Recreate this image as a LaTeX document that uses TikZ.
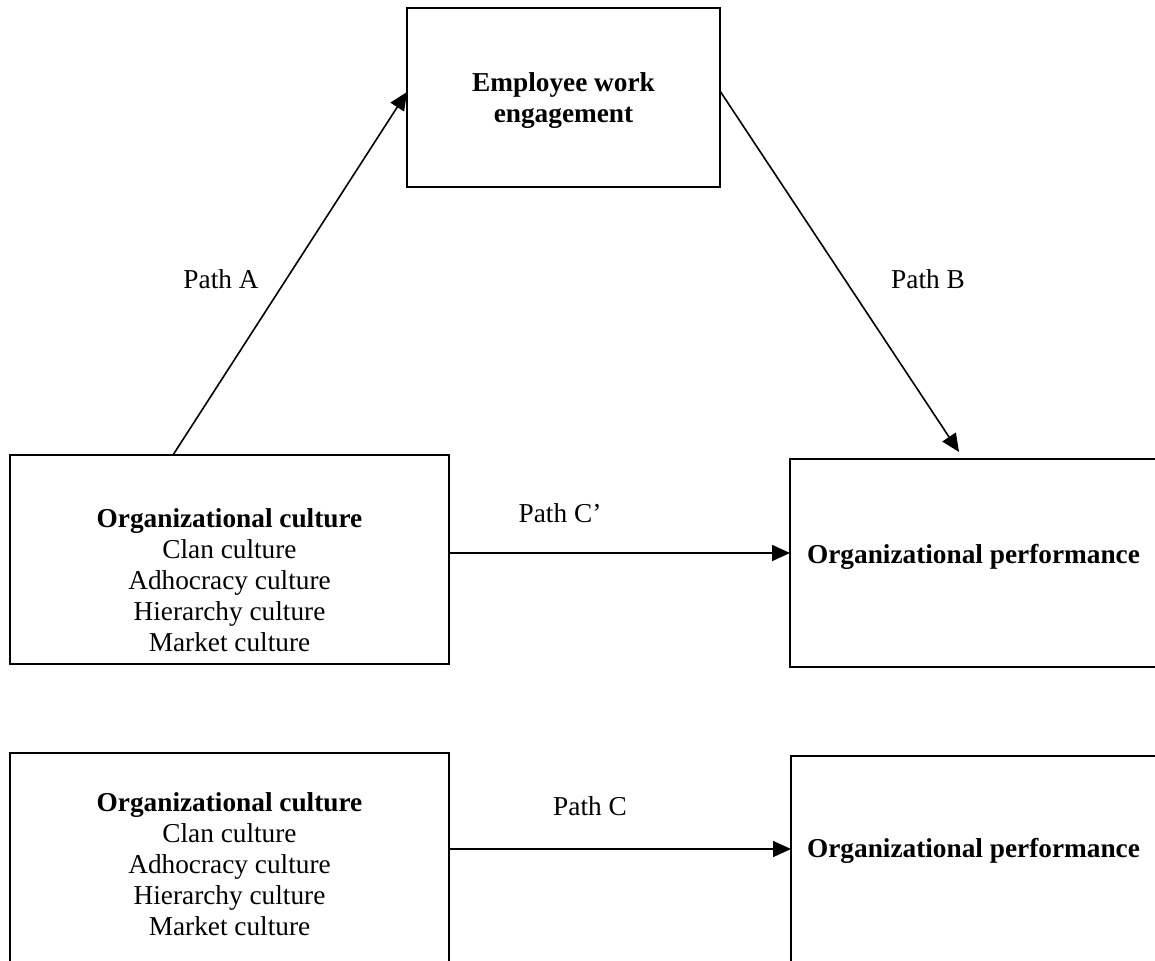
\documentclass[tikz,border=0pt]{standalone}
\usepackage{fontspec}
\setmainfont{Liberation Serif}
\usetikzlibrary{arrows.meta}
\begin{document}
\begin{tikzpicture}[x=0.5pt,y=-0.5pt,
  box/.style={draw,line width=1pt,inner sep=0pt,outer sep=0pt},
  txt/.style={align=center,font=\fontsize{13.65}{15.5}\selectfont,inner sep=0pt},
  lbl/.style={font=\fontsize{13.65}{15.5}\selectfont,inner sep=0pt},
  arr/.style={line width=0.8pt,-{Triangle[length=9pt,width=8pt]}}]
\useasboundingbox (0,0) rectangle (1155,961);
\clip (0,0) rectangle (1155,961);

% mediation model
\node[box,minimum width=156.5pt,minimum height=89.5pt] (ewe) at (563.5,97.5) {};
\node[box,minimum width=219.5pt,minimum height=104.5pt] (oc) at (229.5,559.5) {};
\node[box,minimum width=195pt,minimum height=103.75pt] (op) at (985,562.75) {};

\node[txt] (ewetext) at (563.5,101) {\textbf{Employee work}\\\textbf{engagement}};
\node[txt] (octext) at (229.5,580) {\textbf{Organizational culture}\\Clan culture\\Adhocracy culture\\Hierarchy culture\\Market culture};
\node[txt] (optext) at (973.5,557) {\textbf{Organizational performance}};

\draw[arr] (173,0 |- oc.north) -- (ewe.west |- 0,92);
\draw[arr] (ewe.east |- 0,91) -- ([yshift=3.5pt]959,0 |- op.north);
\draw[arr] (oc.east |- 0,553) -- (op.west |- 0,553);

\node[lbl] (pa) at (221,279) {Path A};
\node[lbl] (pb) at (928,279) {Path B};
\node[lbl] (pc1) at (560,513) {Path C’};

% total effect
\node[box,minimum width=219.5pt,minimum height=118.75pt] (oc2) at (229.5,871.25) {};
\node[box,minimum width=194.5pt,minimum height=117.25pt] (op2) at (985.5,872.75) {};

\node[txt] (oc2text) at (229.5,864) {\textbf{Organizational culture}\\Clan culture\\Adhocracy culture\\Hierarchy culture\\Market culture};
\node[txt] (op2text) at (973.5,851) {\textbf{Organizational performance}};

\draw[arr] (oc2.east |- 0,849) -- (op2.west |- 0,849);
\node[lbl] (pc2) at (590,806) {Path C};
\end{tikzpicture}
\end{document}
